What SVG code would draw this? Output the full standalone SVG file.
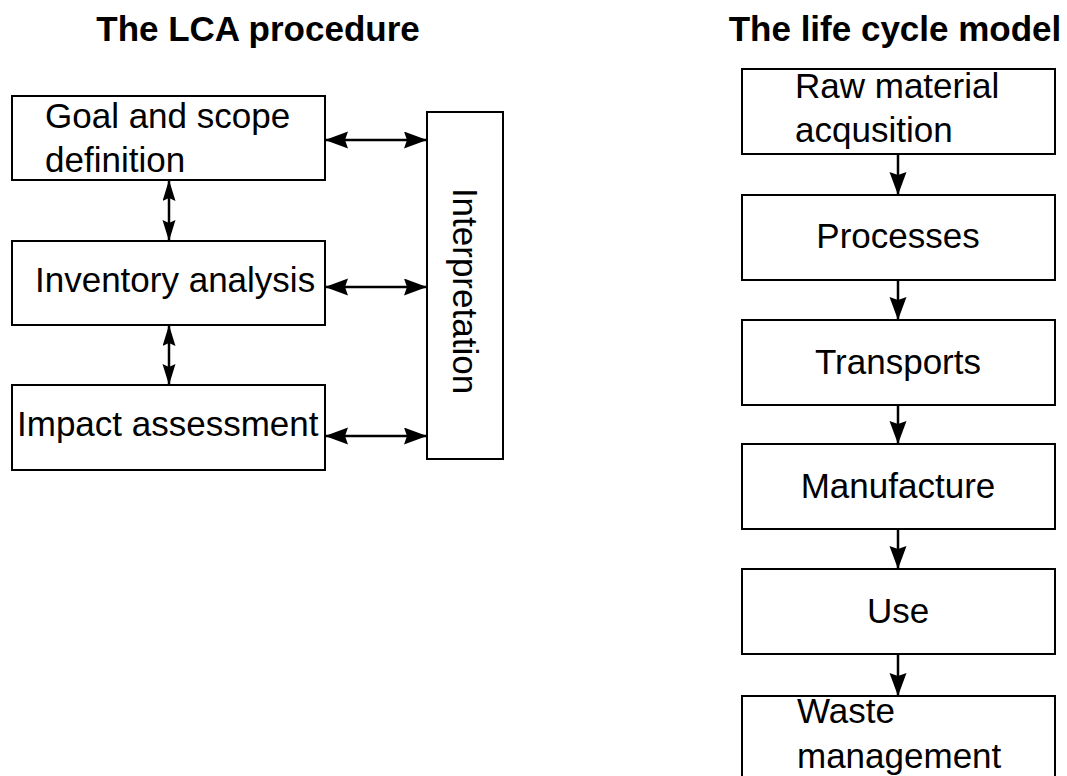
<svg xmlns="http://www.w3.org/2000/svg" width="1067" height="776" viewBox="0 0 1067 776">
<style>
.box{fill:#fff;stroke:#000;stroke-width:2}
.t{font-family:"Liberation Sans",Arial,sans-serif;font-size:35px;fill:#000}
.title{font-family:"Liberation Sans",Arial,sans-serif;font-size:35px;font-weight:bold;fill:#000}
.c{stroke:#000;stroke-width:2.5;fill:none}
</style>
<defs>
<marker id="ah" markerUnits="userSpaceOnUse" markerWidth="24" markerHeight="18" refX="22" refY="8.5" orient="auto-start-reverse" viewBox="0 0 24 18">
<path d="M0,0 L23,8.5 L0,17 L3,8.5 Z" fill="#000"/>
</marker>
<marker id="ahs" markerUnits="userSpaceOnUse" markerWidth="22" markerHeight="14" refX="20" refY="6.5" orient="auto-start-reverse" viewBox="0 0 22 14">
<path d="M0,0 L21,6.5 L0,13 L3,6.5 Z" fill="#000"/>
</marker>
</defs>
<rect width="1067" height="776" fill="#fff"/>
<text class="title" x="258" y="41" text-anchor="middle">The LCA procedure</text>
<text class="title" x="895" y="41" text-anchor="middle">The life cycle model</text>
<g id="goal"><rect class="box" x="12" y="96" width="313" height="84"/><text class="t" x="45" y="128">Goal and scope</text><text class="t" x="45" y="172">definition</text></g>
<g id="inventory"><rect class="box" x="12" y="241" width="313" height="84"/><text class="t" x="35" y="292">Inventory analysis</text></g>
<g id="impact"><rect class="box" x="12" y="385" width="313" height="85"/><text class="t" x="17" y="436">Impact assessment</text></g>
<g id="interpretation"><rect class="box" x="427" y="112" width="76" height="347"/><text class="t" text-anchor="middle" transform="translate(465,291) rotate(90)" x="0" y="12">Interpretation</text></g>
<g id="raw"><rect class="box" x="742" y="69" width="313" height="85"/><text class="t" x="795" y="98">Raw material</text><text class="t" x="795" y="142">acqusition</text></g>
<g id="processes"><rect class="box" x="742" y="195" width="313" height="85"/><text class="t" x="898" y="248" text-anchor="middle">Processes</text></g>
<g id="transports"><rect class="box" x="742" y="320" width="313" height="85"/><text class="t" x="898" y="374" text-anchor="middle">Transports</text></g>
<g id="manufacture"><rect class="box" x="742" y="444" width="313" height="85"/><text class="t" x="898" y="498" text-anchor="middle">Manufacture</text></g>
<g id="use"><rect class="box" x="742" y="569" width="313" height="85"/><text class="t" x="898" y="623" text-anchor="middle">Use</text></g>
<g id="waste"><rect class="box" x="742" y="696" width="313" height="90"/><text class="t" x="797" y="723">Waste</text><text class="t" x="797" y="768">management</text></g>
<g id="connectors">
<line class="c" x1="326" y1="140" x2="426" y2="140" marker-start="url(#ah)" marker-end="url(#ah)"/>
<line class="c" x1="326" y1="287" x2="426" y2="287" marker-start="url(#ah)" marker-end="url(#ah)"/>
<line class="c" x1="326" y1="436" x2="426" y2="436" marker-start="url(#ah)" marker-end="url(#ah)"/>
<line class="c" x1="169" y1="181" x2="169" y2="240" marker-start="url(#ahs)" marker-end="url(#ahs)"/>
<line class="c" x1="169" y1="326" x2="169" y2="384" marker-start="url(#ahs)" marker-end="url(#ahs)"/>
<line class="c" x1="898" y1="155" x2="898" y2="194" marker-end="url(#ah)"/>
<line class="c" x1="898" y1="281" x2="898" y2="319" marker-end="url(#ah)"/>
<line class="c" x1="898" y1="406" x2="898" y2="443" marker-end="url(#ah)"/>
<line class="c" x1="898" y1="530" x2="898" y2="568" marker-end="url(#ah)"/>
<line class="c" x1="898" y1="655" x2="898" y2="695" marker-end="url(#ah)"/>
</g>
</svg>
